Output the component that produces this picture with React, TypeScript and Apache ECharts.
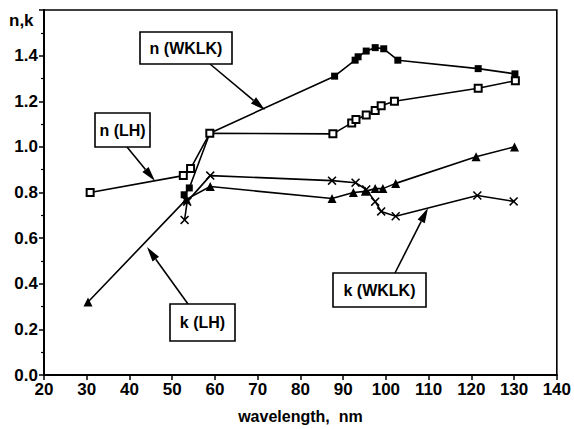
import React, { useEffect, useRef } from "react";
import * as echarts from "echarts";

// wavelength (nm) / value pairs
const nWKLK_x = [52.8, 54.0, 58.8, 88.0, 92.8, 93.5, 95.4, 97.5, 99.5, 102.8, 121.6, 130.2];
const nWKLK_y = [0.79, 0.82, 1.06, 1.31, 1.38, 1.395, 1.42, 1.435, 1.43, 1.38, 1.343, 1.32];

const nLH_x = [30.8, 52.6, 54.3, 58.8, 87.6, 92.0, 93.0, 95.4, 97.5, 98.9, 102.0, 121.6, 130.3];
const nLH_y = [0.8, 0.874, 0.905, 1.06, 1.057, 1.105, 1.12, 1.14, 1.16, 1.18, 1.2, 1.257, 1.29];

const kLH_x = [30.3, 53.3, 58.9, 87.4, 92.4, 95.2, 97.5, 99.3, 102.3, 121.1, 130.1];
const kLH_y = [0.32, 0.77, 0.826, 0.774, 0.8, 0.805, 0.817, 0.817, 0.84, 0.957, 1.0];

const kWKLK_x = [52.9, 53.5, 58.9, 87.4, 92.9, 95.4, 97.5, 98.9, 102.3, 121.4, 129.9];
const kWKLK_y = [0.68, 0.76, 0.874, 0.852, 0.843, 0.813, 0.76, 0.717, 0.696, 0.787, 0.761];

const xMin = 20, xMax = 140, xStep = 10;
const yMin = 0, yMax = 1.6, yStep = 0.2;

const FONT = "'Liberation Sans', Arial, sans-serif";

const pairs = (xs: number[], ys: number[]) => xs.map((x, i) => [x, ys[i]]);

const CROSS = "path://M0,1.2L1.2,0L5,3.8L8.8,0L10,1.2L6.2,5L10,8.8L8.8,10L5,6.2L1.2,10L0,8.8L3.8,5Z";

function labelBox(x: number, y: number, w: number, h: number, text: string) {
  return {
    type: "group",
    children: [
      { type: "rect", shape: { x, y, width: w, height: h }, style: { fill: "#fff", stroke: "#000", lineWidth: 1.6 } },
      {
        type: "text",
        x: x + w / 2,
        y: y + h / 2,
        style: { text, fill: "#000", font: `bold 16px ${FONT}`, textAlign: "center", textVerticalAlign: "middle" },
      },
    ],
  };
}

function arrow(x1: number, y1: number, x2: number, y2: number) {
  const dx = x2 - x1, dy = y2 - y1;
  const len = Math.sqrt(dx * dx + dy * dy);
  const ux = dx / len, uy = dy / len;
  const hl = 15, hw = 4;
  const bx = x2 - ux * hl, by = y2 - uy * hl;
  const nx = -uy, ny = ux;
  return {
    type: "group",
    children: [
      { type: "line", shape: { x1, y1, x2: bx, y2: by }, style: { stroke: "#000", lineWidth: 1.6 } },
      {
        type: "polygon",
        shape: { points: [[x2, y2], [bx + nx * hw, by + ny * hw], [bx - nx * hw, by - ny * hw]] },
        style: { fill: "#000" },
      },
    ],
  };
}

export default function App() {
  const ref = useRef<HTMLDivElement>(null);
  useEffect(() => {
    if (!ref.current) return;
    const chart = echarts.init(ref.current, null, { renderer: "svg" });
    const lineStyle = { color: "#000", width: 1.6 };
    chart.setOption({
      animation: false,
      backgroundColor: "#fff",
      grid: { left: 44, right: 13, top: 10, bottom: 52, show: true, borderColor: "#000", borderWidth: 1.6 },
      xAxis: {
        type: "value",
        min: xMin,
        max: xMax,
        interval: xStep,
        name: "wavelength,  nm",
        nameLocation: "middle",
        nameGap: 33,
        nameTextStyle: { color: "#000", fontFamily: FONT, fontWeight: "bold", fontSize: 16 },
        axisLine: { lineStyle: { color: "#000", width: 2 } },
        axisTick: { lineStyle: { color: "#000", width: 1.5 }, length: 5 },
        axisLabel: { color: "#000", fontFamily: FONT, fontWeight: "bold", fontSize: 17, margin: 6 },
        splitLine: { show: false },
      },
      yAxis: {
        type: "value",
        min: yMin,
        max: yMax,
        interval: yStep,
        axisLine: { lineStyle: { color: "#000", width: 2 } },
        axisTick: { lineStyle: { color: "#000", width: 1.5 }, length: 5 },
        minorTick: { show: true, splitNumber: 2, length: 3, lineStyle: { color: "#000", width: 1.2 } },
        axisLabel: {
          color: "#000",
          fontFamily: FONT,
          fontWeight: "bold",
          fontSize: 17,
          margin: 6,
          formatter: (v: number) => (v >= yMax - 1e-9 ? "" : v.toFixed(1)),
        },
        splitLine: { show: false },
      },
      series: [
        {
          name: "n (WKLK)",
          type: "line",
          data: pairs(nWKLK_x, nWKLK_y),
          symbol: "rect",
          symbolSize: 7,
          lineStyle,
          itemStyle: { color: "#000" },
        },
        {
          name: "n (LH)",
          type: "line",
          data: pairs(nLH_x, nLH_y),
          symbol: "emptyRect",
          symbolSize: 7,
          lineStyle,
          itemStyle: { color: "#000", borderColor: "#000", borderWidth: 1.5 },
        },
        {
          name: "k (LH)",
          type: "line",
          data: pairs(kLH_x, kLH_y),
          symbol: "triangle",
          symbolSize: 9,
          lineStyle,
          itemStyle: { color: "#000" },
        },
        {
          name: "k (WKLK)",
          type: "line",
          data: pairs(kWKLK_x, kWKLK_y),
          symbol: CROSS,
          symbolSize: 9,
          lineStyle,
          itemStyle: { color: "#000" },
        },
      ],
      graphic: [
        { type: "text", left: 9, top: 12, style: { text: "n,k", fill: "#000", font: `bold 17px ${FONT}` } },
        arrow(210, 64, 265, 110),
        labelBox(140, 32, 92, 32, "n (WKLK)"),
        arrow(127, 147, 155, 181),
        labelBox(95, 113, 55, 34, "n (LH)"),
        arrow(188, 304, 147, 247),
        labelBox(170, 304, 65, 37, "k (LH)"),
        arrow(395, 273, 428, 208),
        labelBox(333, 273, 93, 34, "k (WKLK)"),
      ],
    });
    return () => chart.dispose();
  }, []);
  return <div ref={ref} style={{ width: 574, height: 429, position: "absolute", left: 0, top: 0 }} />;
}
